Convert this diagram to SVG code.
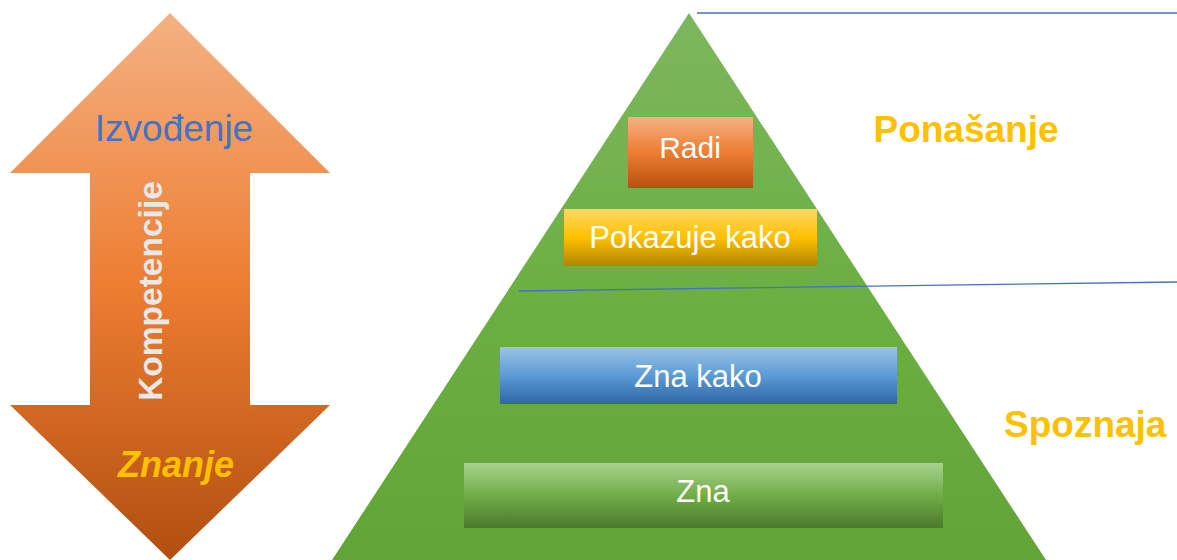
<svg xmlns="http://www.w3.org/2000/svg" width="1177" height="560" viewBox="0 0 1177 560">
<style>
.lbl{font-family:"Liberation Sans",Arial,sans-serif;fill:#FFFFFF;text-anchor:middle}
.gold{font-family:"Liberation Sans",Arial,sans-serif;font-weight:bold;fill:#FFC000}
.sep{stroke:#4472C4;stroke-width:1.3;fill:none}
</style>
<defs>
<linearGradient id="gArrow" x1="0" y1="0" x2="0" y2="1">
<stop offset="0" stop-color="#F4B183"/>
<stop offset="0.5" stop-color="#ED7D31"/>
<stop offset="1" stop-color="#B14F10"/>
</linearGradient>
<linearGradient id="gPyr" x1="0" y1="0" x2="0" y2="1">
<stop offset="0" stop-color="#7DB75E"/>
<stop offset="0.5" stop-color="#6CAF43"/>
<stop offset="1" stop-color="#62A437"/>
</linearGradient>
<linearGradient id="gOrange" x1="0" y1="0" x2="0" y2="1">
<stop offset="0" stop-color="#F4B183"/>
<stop offset="0.5" stop-color="#ED7D31"/>
<stop offset="1" stop-color="#B8500F"/>
</linearGradient>
<linearGradient id="gYellow" x1="0" y1="0" x2="0" y2="1">
<stop offset="0" stop-color="#FFD966"/>
<stop offset="0.5" stop-color="#FFC000"/>
<stop offset="1" stop-color="#B08600"/>
</linearGradient>
<linearGradient id="gBlue" x1="0" y1="0" x2="0" y2="1">
<stop offset="0" stop-color="#9DC3E6"/>
<stop offset="0.5" stop-color="#5B9BD5"/>
<stop offset="1" stop-color="#2E67A4"/>
</linearGradient>
<linearGradient id="gGreen" x1="0" y1="0" x2="0" y2="1">
<stop offset="0" stop-color="#A9D18E"/>
<stop offset="0.5" stop-color="#70AD47"/>
<stop offset="1" stop-color="#4A7A2C"/>
</linearGradient>
</defs>

<g id="arrow">
<polygon points="170,13 330,173 250,173 250,405 330,405 170,560 10,405 90,405 90,173 10,173" fill="url(#gArrow)"/>
<text x="174" y="141" font-family="Liberation Sans, Arial, sans-serif" font-size="37" fill="#4472C4" text-anchor="middle">Izvođenje</text>
<text transform="translate(162,291) rotate(-90)" font-family="Liberation Sans, Arial, sans-serif" font-size="33.5" font-weight="bold" fill="#E8E8E8" text-anchor="middle">Kompetencije</text>
<text x="176" y="477" font-family="Liberation Sans, Arial, sans-serif" font-size="36" font-weight="bold" font-style="italic" fill="#FFC000" text-anchor="middle">Znanje</text>
</g>

<g id="pyramid">
<polygon points="689,13 1046,560 332,560" fill="url(#gPyr)"/>
</g>

<g id="connectors">
<line class="sep" x1="697" y1="13" x2="1177" y2="13"/>
<line class="sep" x1="519" y1="291" x2="1177" y2="282"/>
</g>

<g id="radi">
<rect x="628" y="117" width="125" height="71" fill="url(#gOrange)"/>
<text class="lbl" x="690" y="158" font-size="30">Radi</text>
</g>

<g id="pokazuje-kako">
<rect x="564" y="209" width="253" height="57" fill="url(#gYellow)"/>
<text class="lbl" x="690" y="248" font-size="31">Pokazuje kako</text>
</g>

<g id="zna-kako">
<rect x="500" y="347" width="397" height="57" fill="url(#gBlue)"/>
<text class="lbl" x="698" y="387" font-size="31">Zna kako</text>
</g>

<g id="zna">
<rect x="464" y="463" width="479" height="65" fill="url(#gGreen)"/>
<text class="lbl" x="703" y="502" font-size="31">Zna</text>
</g>

<g id="ponasanje">
<text class="gold" x="966" y="142" font-size="37" text-anchor="middle">Ponašanje</text>
</g>

<g id="spoznaja">
<text class="gold" x="1004" y="437" font-size="37">Spoznaja</text>
</g>
</svg>
